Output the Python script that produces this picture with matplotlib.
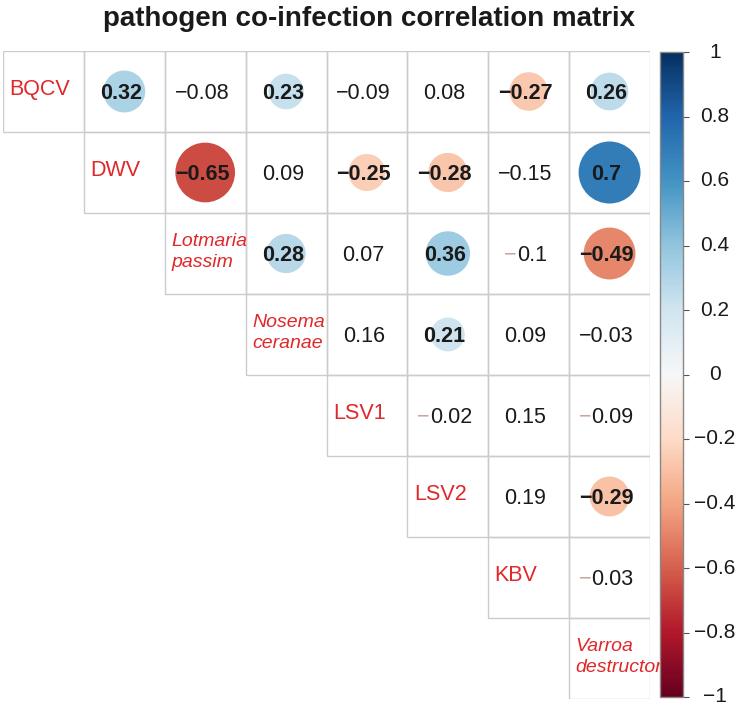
import matplotlib
matplotlib.use("Agg")
import matplotlib.pyplot as plt
import numpy as np
from matplotlib.patches import Rectangle, Ellipse
from matplotlib.colors import Normalize
import matplotlib.colorbar as mcolorbar

plt.rcParams['font.family'] = ['Liberation Sans', 'DejaVu Sans']

# ---------------- data ----------------
names = ["BQCV", "DWV", "Lotmaria\npassim", "Nosema\nceranae",
         "LSV1", "LSV2", "KBV", "Varroa\ndestructor"]
italic = [False, False, True, True, False, False, False, True]

# upper-triangle correlations, row by row (columns i+1 .. 7)
row_BQCV = [0.32, -0.08, 0.23, -0.09, 0.08, -0.27, 0.26]
row_DWV = [-0.65, 0.09, -0.25, -0.28, -0.15, 0.70]
row_Lotmaria = [0.28, 0.07, 0.36, -0.10, -0.49]
row_Nosema = [0.16, 0.21, 0.09, -0.03]
row_LSV1 = [-0.02, 0.15, -0.09]
row_LSV2 = [0.19, -0.29]
row_KBV = [-0.03]

sig_BQCV = [1, 0, 1, 0, 0, 1, 1]
sig_DWV = [1, 0, 1, 1, 0, 1]
sig_Lotmaria = [1, 0, 1, 0, 1]
sig_Nosema = [0, 1, 0, 0]
sig_LSV1 = [0, 0, 0]
sig_LSV2 = [0, 1]
sig_KBV = [0]

# cells whose minus sign is drawn faint (i, j)
faint_minus = [(2, 6), (4, 5), (4, 7), (6, 7)]

colorbar_ticks = [1, 0.8, 0.6, 0.4, 0.2, 0, -0.2, -0.4, -0.6, -0.8, -1]

rows = [row_BQCV, row_DWV, row_Lotmaria, row_Nosema, row_LSV1, row_LSV2, row_KBV]
sigs = [sig_BQCV, sig_DWV, sig_Lotmaria, sig_Nosema, sig_LSV1, sig_LSV2, sig_KBV]

n = len(names)
cmap = plt.get_cmap("RdBu")
norm = Normalize(-1, 1)

def fmt(v):
    s = ("%.2f" % v).rstrip("0").rstrip(".")
    if s in ("-0", ""):
        s = "0"
    return s.replace("-", "\u2212")

W, H = 738, 707
fig = plt.figure(figsize=(W / 100, H / 100), dpi=100)

ax = fig.add_axes([3 / W, (H - 699) / H, 647 / W, 648 / H])
ax.set_xlim(0, n)
ax.set_ylim(n, 0)
ax.axis("off")

grid_col = "#cccccc"
for i in range(n):
    for j in range(i, n):
        ax.add_patch(Rectangle((j, i), 1, 1, fill=False, ec=grid_col, lw=1.0, zorder=1))

# diagonal labels
for i, name in enumerate(names):
    ax.text(i + 0.08, i + 0.48, name, ha="left", va="center",
            color="#e0282a", fontsize=14 if italic[i] else 15.5,
            style="italic" if italic[i] else "normal",
            linespacing=1.35, zorder=3)

fig.canvas.draw()
renderer = fig.canvas.get_renderer()
NUM_FS = 15.5
for i, (r, s) in enumerate(zip(rows, sigs)):
    for k, (v, sg) in enumerate(zip(r, s)):
        j = i + 1 + k
        cx, cy = j + 0.5, i + 0.5
        if sg:
            d = 0.915 * np.sqrt(abs(v))
            ax.add_patch(Ellipse((cx, cy), d, d, color=cmap(norm(v)), lw=0, zorder=2))
        label = fmt(v)
        tx, ty = cx - 0.04, cy + 0.02
        if (i, j) in faint_minus:
            tmp = ax.text(tx, ty, label, ha="center", va="center", fontsize=NUM_FS)
            bb = tmp.get_window_extent(renderer)
            tmp.remove()
            inv = ax.transData.inverted()
            x0 = inv.transform((bb.x0, 0))[0]
            x1 = inv.transform((bb.x1, 0))[0]
            ax.text(x0, ty, "\u2212", ha="left", va="center", fontsize=NUM_FS,
                    color="#c9a59c", zorder=4)
            ax.text(x1, ty, label[1:], ha="right", va="center", fontsize=NUM_FS,
                    color="#1a1a1a", zorder=4)
        else:
            ax.text(tx, ty, label, ha="center", va="center",
                    fontsize=NUM_FS, fontweight="bold" if sg else "normal",
                    color="#1a1a1a", zorder=4)

# title
fig.text(369 / W, 1 - 19 / H, "pathogen co-infection correlation matrix",
         ha="center", va="center", fontsize=20, fontweight="bold", color="#1a1a1a")

# colorbar
cax = fig.add_axes([660 / W, (H - 697) / H, 23 / W, 645 / H])
cb = mcolorbar.ColorbarBase(cax, cmap=cmap, norm=norm, orientation="vertical")
cb.set_ticks(colorbar_ticks)
cb.set_ticklabels([""] * len(colorbar_ticks))
cb.outline.set_edgecolor("#888888")
cb.outline.set_linewidth(1.0)
cax.tick_params(axis="y", length=4, width=0.8, color="#555555")
for v in colorbar_ticks:
    cax.text((715 - 660) / 23, v, fmt(v), transform=cax.get_yaxis_transform(),
             ha="center", va="center", fontsize=15, color="#1a1a1a", clip_on=False)

fig.savefig("out.png", dpi=100, facecolor="white")
